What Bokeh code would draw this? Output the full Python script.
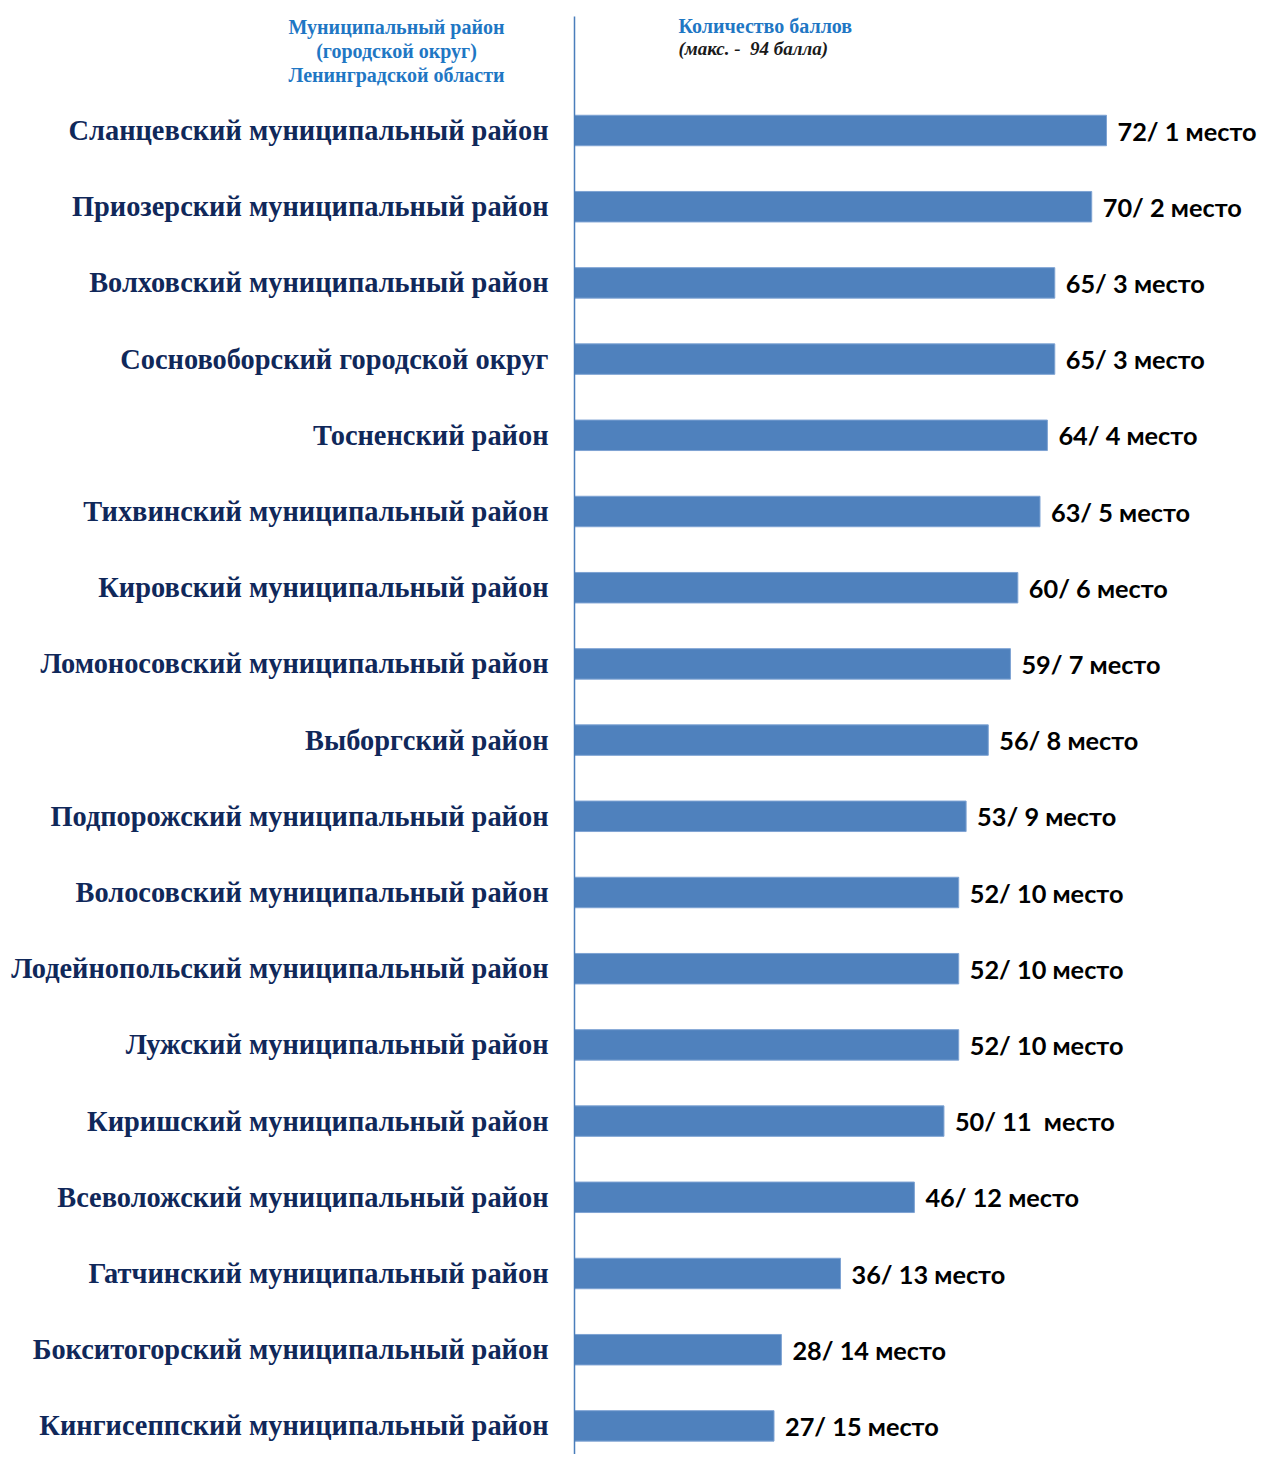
from bokeh.plotting import figure
from bokeh.models import ColumnDataSource, Range1d
from bokeh.core.properties import value
from bokeh.embed import file_html
from bokeh.resources import INLINE

districts = [
    "Сланцевский муниципальный район",
    "Приозерский муниципальный район",
    "Волховский муниципальный район",
    "Сосновоборский городской округ",
    "Тосненский район",
    "Тихвинский муниципальный район",
    "Кировский муниципальный район",
    "Ломоносовский муниципальный район",
    "Выборгский район",
    "Подпорожский муниципальный район",
    "Волосовский муниципальный район",
    "Лодейнопольский муниципальный район",
    "Лужский муниципальный район",
    "Киришский муниципальный район",
    "Всеволожский муниципальный район",
    "Гатчинский муниципальный район",
    "Бокситогорский муниципальный район",
    "Кингисеппский муниципальный район",
]
scores = [72, 70, 65, 65, 64, 63, 60, 59, 56, 53, 52, 52, 52, 50, 46, 36, 28, 27]
places = ["1 место", "2 место", "3 место", "3 место", "4 место", "5 место",
          "6 место", "7 место", "8 место", "9 место", "10 место", "10 место",
          "10 место", "11\u00a0 место", "12 место", "13 место", "14 место", "15 место"]

header_left = ["Муниципальный район", "(городской округ)", "Ленинградской области"]
header_right_title = "Количество баллов"
header_right_note = "(макс. -\u00a0 94 балла)"

W, H = 1261, 1454
SCALE = 532.0 / 72.0      # px per score unit
ROW = 76.2                # px per row
X0 = 574                  # px position of zero
Y0 = 130                  # px position of the first bar centre

def xs(px):
    return (px - X0) / SCALE

def ys(px):
    return -(px - Y0) / ROW

p = figure(width=W, height=H, output_backend="svg", toolbar_location=None,
           x_range=Range1d(xs(0), xs(W)), y_range=Range1d(ys(H), ys(0)),
           min_border=0, outline_line_color=None)
p.xaxis.visible = False
p.yaxis.visible = False
p.xgrid.visible = False
p.ygrid.visible = False

ypos = [-i for i in range(len(districts))]
labels = [f"{s}/ {pl}" for s, pl in zip(scores, places)]
src = ColumnDataSource(dict(y=ypos, score=scores, name=districts, lab=labels,
                            lx=[s + 11 / SCALE for s in scores]))

p.hbar(y="y", left=0, right="score", height=0.4, source=src,
       fill_color="#4f81bd", line_color="#7ea3d3", line_width=1)

p.segment(x0=[0], y0=[ys(16)], x1=[0], y1=[ys(H + 5)],
          line_color="#4a7ebb", line_width=1.5)

p.text(x=xs(548), y="y", text="name", source=src,
       text_font=value("Liberation Serif"), text_font_style="bold",
       text_font_size="28.4px", text_color="#10285a",
       text_align="right", text_baseline="middle")

p.text(x="lx", y="y", text="lab", source=src,
       text_font=value("Lato"), text_font_style="bold",
       text_font_size="25.3px", text_color="#000000",
       text_align="left", text_baseline="middle")

p.text(x=[xs(396)] * 3, y=[ys(26), ys(50), ys(74)], text=header_left,
       text_font=value("Liberation Serif"), text_font_style="bold",
       text_font_size="20px", text_color="#1f77c4",
       text_align="center", text_baseline="middle")

p.text(x=[xs(678)], y=[ys(25)], text=[header_right_title],
       text_font=value("Liberation Serif"), text_font_style="bold",
       text_font_size="20px", text_color="#1f77c4",
       text_align="left", text_baseline="middle")

p.text(x=[xs(678)], y=[ys(48)], text=[header_right_note],
       text_font=value("Liberation Serif"), text_font_style="bold italic",
       text_font_size="19px", text_color="#1a1a1a",
       text_align="left", text_baseline="middle")

open("out.html", "w").write(file_html(p, INLINE))
